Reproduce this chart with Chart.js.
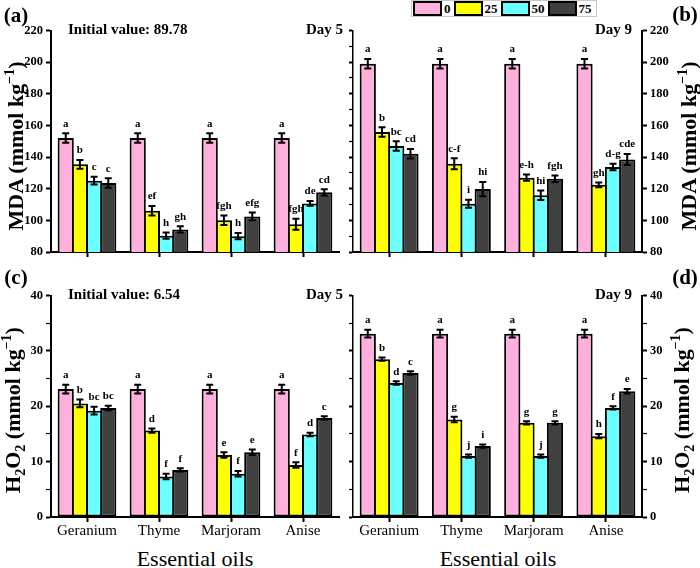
<!DOCTYPE html>
<html>
<head>
<meta charset="utf-8">
<script src="https://cdn.jsdelivr.net/npm/chart.js@4.4.0/dist/chart.umd.min.js"></script>
<style>
  body { margin: 0; background: #fff; font-family: "Liberation Serif", serif; }
  #fig { position: relative; width: 700px; height: 568px; overflow: hidden; background: #fff; }
  canvas { position: absolute; }
  .t { position: absolute; white-space: nowrap; line-height: 1; color: #000; font-family: "Liberation Serif", serif; }
  .rot { transform: translate(-50%, -50%) rotate(-90deg); font-weight: bold; font-size: 22px; }
  .rot sup { font-size: 14px; vertical-align: 9px; }
  .rot sub { font-size: 14px; vertical-align: -5px; }
  .panel { font-weight: bold; font-size: 21px; transform: translate(-50%, -50%); }
  .eje { font-size: 22px; transform: translate(-50%, -50%); font-family: "Liberation Serif", serif; }
  #leyenda { position: absolute; left: 411px; top: 0px; height: 17px; border: 1px solid #c8c8c8;
             display: flex; align-items: center; padding: 0 1px; box-sizing: border-box; }
  #leyenda .sw { width: 29px; height: 15px; border: 2px solid #000; box-sizing: border-box; }
  #leyenda .lb { font-weight: bold; font-size: 13px; padding: 0 3px 0 2px; font-family: "Liberation Serif", serif; }
</style>
</head>
<body>
<div id="fig">
  <canvas id="panelA" width="345" height="250" style="left:0px;top:20px"></canvas>
  <canvas id="panelB" width="355" height="250" style="left:345px;top:20px"></canvas>
  <canvas id="panelC" width="345" height="255" style="left:0px;top:285px"></canvas>
  <canvas id="panelD" width="355" height="255" style="left:345px;top:285px"></canvas>

  <div id="leyenda"></div>

  <div class="t panel" style="left:16px;top:15px">(a)</div>
  <div class="t panel" style="left:685px;top:14px">(b)</div>
  <div class="t panel" style="left:16px;top:277px">(c)</div>
  <div class="t panel" style="left:685px;top:277px">(d)</div>

  <div class="t rot" style="left:15px;top:146px">MDA (mmol kg<sup>−1</sup>)</div>
  <div class="t rot" style="left:688px;top:146px">MDA (mmol kg<sup>−1</sup>)</div>
  <div class="t rot" style="left:14px;top:410px">H<sub>2</sub>O<sub>2</sub> (mmol kg<sup>−1</sup>)</div>
  <div class="t rot" style="left:683px;top:410px">H<sub>2</sub>O<sub>2</sub> (mmol kg<sup>−1</sup>)</div>

  <div class="t eje" style="left:195px;top:559px">Essential oils</div>
  <div class="t eje" style="left:498px;top:559px">Essential oils</div>
</div>

<script>
// Datos
const aceites = ['Geranium', 'Thyme', 'Marjoram', 'Anise'];
const dosis = ['0', '25', '50', '75'];
const colores = ['#FFB0DC', '#FFFF00', '#6CFFFF', '#404040'];

// (a) MDA dia 5 - una fila por dosis
const mdaDia5 = [[152, 152, 152, 152], [135.4, 106, 100, 97.5], [125.1, 90.3, 90, 110.7], [123.6, 94.3, 102.5, 117.7]];
const mdaDia5Err = [[3, 3, 3, 3], [2.8, 3, 3, 3.5], [2.5, 2, 2, 1.5], [3, 2, 2.5, 2]];
const mdaDia5Letras = [['a', 'a', 'a', 'a'], ['b', 'ef', 'fgh', 'fgh'], ['c', 'h', 'h', 'de'], ['c', 'gh', 'efg', 'cd']];

// (b) MDA dia 9
const mdaDia9 = [[199, 199, 199, 199], [155.8, 135.8, 127, 122.5], [147, 110.5, 115.8, 133.7], [142.1, 119.8, 126.3, 138.5]];
const mdaDia9Err = [[3, 3, 3, 3], [3, 3.5, 2, 1.5], [3, 2.5, 3, 2], [3, 4.5, 2, 3.5]];
const mdaDia9Letras = [['a', 'a', 'a', 'a'], ['b', 'c-f', 'e-h', 'gh'], ['bc', 'i', 'hi', 'd-g'], ['cd', 'hi', 'fgh', 'cde']];

// (c) H2O2 dia 5
const h2o2Dia5 = [[23.1, 23.1, 23.1, 23.1], [20.5, 15.6, 11.2, 9.4], [19.2, 7.3, 7.8, 14.9], [19.7, 8.5, 11.7, 17.9]];
const h2o2Dia5Err = [[0.8, 0.8, 0.8, 0.8], [0.7, 0.4, 0.5, 0.5], [0.7, 0.5, 0.5, 0.3], [0.4, 0.3, 0.5, 0.3]];
const h2o2Dia5Letras = [['a', 'a', 'a', 'a'], ['b', 'd', 'e', 'f'], ['bc', 'f', 'f', 'd'], ['bc', 'f', 'e', 'c']];

// (d) H2O2 dia 9
const h2o2Dia9 = [[33.1, 33.1, 33.1, 33.1], [28.5, 17.6, 17.0, 14.6], [24.2, 11.0, 11.0, 19.7], [26.0, 12.8, 17.0, 22.7]];
const h2o2Dia9Err = [[0.7, 0.7, 0.7, 0.7], [0.3, 0.5, 0.3, 0.4], [0.3, 0.3, 0.3, 0.3], [0.3, 0.3, 0.3, 0.4]];
const h2o2Dia9Letras = [['a', 'a', 'a', 'a'], ['b', 'g', 'g', 'h'], ['d', 'j', 'j', 'f'], ['c', 'i', 'g', 'e']];

const fuente = '"Liberation Serif", serif';

// Leyenda en HTML
const leyenda = document.getElementById('leyenda');
dosis.forEach((d, i) => {
  leyenda.insertAdjacentHTML('beforeend',
    `<span class="sw" style="background:${colores[i]}"></span><span class="lb">${d}</span>`);
});

// Plugin: barras de error, letras y textos de esquina
function pluginBarras(errores, letras, textoIzq, textoDer, dxDer) {
  return {
    id: 'barras',
    afterDatasetsDraw(chart) {
      const ctx = chart.ctx;
      const ys = chart.scales.y;
      ctx.save();
      ctx.strokeStyle = '#000';
      ctx.fillStyle = '#000';
      ctx.lineWidth = 2;
      ctx.textAlign = 'center';
      ctx.textBaseline = 'bottom';
      ctx.font = `bold 11px ${fuente}`;
      chart.data.datasets.forEach((ds, i) => {
        chart.getDatasetMeta(i).data.forEach((bar, j) => {
          const v = ds.data[j], e = errores[i][j];
          const y1 = ys.getPixelForValue(v + e);
          const y2 = ys.getPixelForValue(v - e);
          ctx.beginPath();
          ctx.moveTo(bar.x, y1); ctx.lineTo(bar.x, y2);
          ctx.moveTo(bar.x - 3.5, y1); ctx.lineTo(bar.x + 3.5, y1);
          ctx.moveTo(bar.x - 3.5, y2); ctx.lineTo(bar.x + 3.5, y2);
          ctx.stroke();
          ctx.fillText(letras[i][j], bar.x, y1 - 4);
        });
      });
      const area = chart.chartArea;
      ctx.font = `bold 15px ${fuente}`;
      ctx.textBaseline = 'middle';
      if (textoIzq) {
        ctx.textAlign = 'left';
        ctx.fillText(textoIzq, area.left + 17, area.top);
      }
      ctx.textAlign = 'right';
      ctx.fillText(textoDer, area.right + dxDer, area.top);
      ctx.restore();
    }
  };
}

function ejeY(lado, min, max, paso, mayor, anchoEje, conEtiquetas, grosor) {
  return {
    position: lado,
    min: min, max: max,
    afterFit: (s) => { s.width = anchoEje; },
    border: { display: true, color: '#000', width: grosor },
    grid: {
      drawOnChartArea: false, drawTicks: true, tickLength: conEtiquetas ? 5 : 4, tickColor: '#000',
      tickWidth: (c) => (c.tick && c.tick.value % mayor === 0) ? 2 : 1.2
    },
    ticks: {
      display: conEtiquetas,
      stepSize: paso,
      padding: 3,
      color: '#000',
      font: { family: fuente, size: 12.5, weight: 'bold' },
      callback: (v) => (v % mayor === 0 ? v : '')
    }
  };
}

function crearPanel(id, valores, errores, letras, cfg) {
  const scales = {
    x: {
      type: 'category',
      afterFit: (s) => { s.height = cfg.altoX; },
      border: { display: true, color: '#000', width: 2 },
      grid: { offset: false, drawOnChartArea: false, drawTicks: true, tickLength: 5, tickWidth: 2, tickColor: '#000' },
      ticks: { display: cfg.etiquetasX, padding: 0, color: '#000', autoSkip: false, maxRotation: 0,
               font: { family: fuente, size: 15 } }
    }
  };
  if (cfg.lado === 'left') {
    scales.y = ejeY('left', cfg.min, cfg.max, cfg.paso, cfg.mayor, 51, true, 2);
  } else {
    scales.y = ejeY('right', cfg.min, cfg.max, cfg.paso, cfg.mayor, 58, true, 2);
    scales.yIzq = ejeY('left', cfg.min, cfg.max, cfg.paso, cfg.mayor, 8, false, 1.5);
  }
  return new Chart(document.getElementById(id), {
    type: 'bar',
    data: {
      labels: aceites,
      datasets: dosis.map((d, i) => ({
        label: d,
        data: valores[i],
        backgroundColor: colores[i],
        borderColor: '#000',
        borderWidth: 2,
        borderSkipped: false,
        categoryPercentage: 0.788,
        barPercentage: 1.14
      }))
    },
    options: {
      responsive: false,
      animation: false,
      devicePixelRatio: 1,
      layout: { padding: { top: 10, right: cfg.padDer, left: 0, bottom: 0 } },
      plugins: { legend: { display: false }, tooltip: { enabled: false } },
      scales: scales
    },
    plugins: [pluginBarras(errores, letras, cfg.textoIzq, cfg.textoDer, cfg.dxDer)]
  });
}

crearPanel('panelA', mdaDia5, mdaDia5Err, mdaDia5Letras,
  { lado: 'left', min: 80, max: 220, paso: 10, mayor: 20, altoX: 18, etiquetasX: false, padDer: 6,
    textoIzq: 'Initial value: 89.78', textoDer: 'Day 5', dxDer: 4 });
crearPanel('panelB', mdaDia9, mdaDia9Err, mdaDia9Letras,
  { lado: 'right', min: 80, max: 220, paso: 10, mayor: 20, altoX: 18, etiquetasX: false, padDer: 0,
    textoIzq: null, textoDer: 'Day 9', dxDer: -10 });
crearPanel('panelC', h2o2Dia5, h2o2Dia5Err, h2o2Dia5Letras,
  { lado: 'left', min: 0, max: 40, paso: 5, mayor: 10, altoX: 23, etiquetasX: true, padDer: 6,
    textoIzq: 'Initial value: 6.54', textoDer: 'Day 5', dxDer: 4 });
crearPanel('panelD', h2o2Dia9, h2o2Dia9Err, h2o2Dia9Letras,
  { lado: 'right', min: 0, max: 40, paso: 5, mayor: 10, altoX: 23, etiquetasX: true, padDer: 0,
    textoIzq: null, textoDer: 'Day 9', dxDer: -10 });
</script>
</body>
</html>
